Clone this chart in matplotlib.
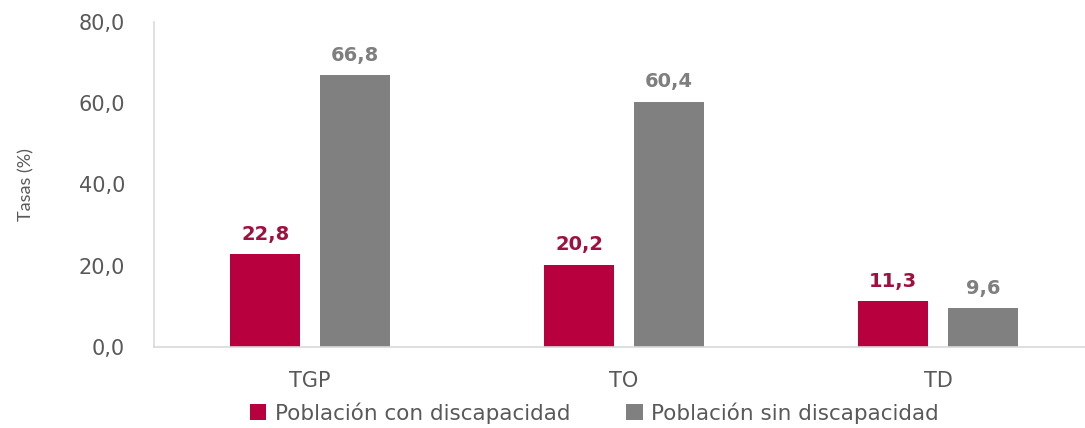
import numpy as np
import matplotlib
matplotlib.use("Agg")
import matplotlib.pyplot as plt

categories = ["TGP", "TO", "TD"]
con_disc = [22.8, 20.2, 11.3]
sin_disc = [66.8, 60.4, 9.6]
series_names = ["Población con discapacidad", "Población sin discapacidad"]

red = "#B8003F"
gray = "#808080"

# wide face to mimic the stretched look of the original
plt.rcParams["font.family"] = ["DejaVu Sans"]

fig = plt.figure(figsize=(10.85, 4.28), dpi=100)
ax = fig.add_axes([0.142, 0.189, 0.858, 0.76])

x = np.arange(len(categories))
w = 0.223
off = 0.143
b1 = ax.bar(x - off, con_disc, w, color=red, label=series_names[0])
b2 = ax.bar(x + off, sin_disc, w, color=gray, label=series_names[1])

def fmt(v):
    return f"{v:.1f}".replace(".", ",")

for rect, v in zip(b1, con_disc):
    ax.text(rect.get_x() + rect.get_width() / 2, v + 2.6, fmt(v), ha="center", va="bottom",
            fontsize=14, fontweight="bold", color="#A0103F")
for rect, v in zip(b2, sin_disc):
    ax.text(rect.get_x() + rect.get_width() / 2, v + 2.6, fmt(v), ha="center", va="bottom",
            fontsize=14, fontweight="bold", color="#7F7F7F")

ax.set_xlim(-0.497, 2.468)
ax.set_ylim(0, 80)
ax.set_yticks([0, 20, 40, 60, 80])
ax.set_yticklabels([fmt(t) for t in [0, 20, 40, 60, 80]])
ax.set_xticks(x)
ax.set_xticklabels(categories)
ax.tick_params(axis="both", length=0, labelsize=15, colors="#595959")
ax.tick_params(axis="y", pad=21)
ax.tick_params(axis="x", pad=17)

for s in ["top", "right"]:
    ax.spines[s].set_visible(False)
for s in ["left", "bottom"]:
    ax.spines[s].set_color("#D9D9D9")
    ax.spines[s].set_linewidth(1.2)

ax.set_ylabel("Tasas (%)", fontsize=13, color="#595959", labelpad=32,
              family=["Lato", "DejaVu Sans"])

fig.legend(loc="lower center", bbox_to_anchor=(0.548, -0.035), ncol=2, frameon=False,
           fontsize=15.5, handlelength=0.75, handleheight=0.75, handletextpad=0.4,
           columnspacing=2.6, labelcolor="#595959")

fig.savefig("out.png", dpi=100)
